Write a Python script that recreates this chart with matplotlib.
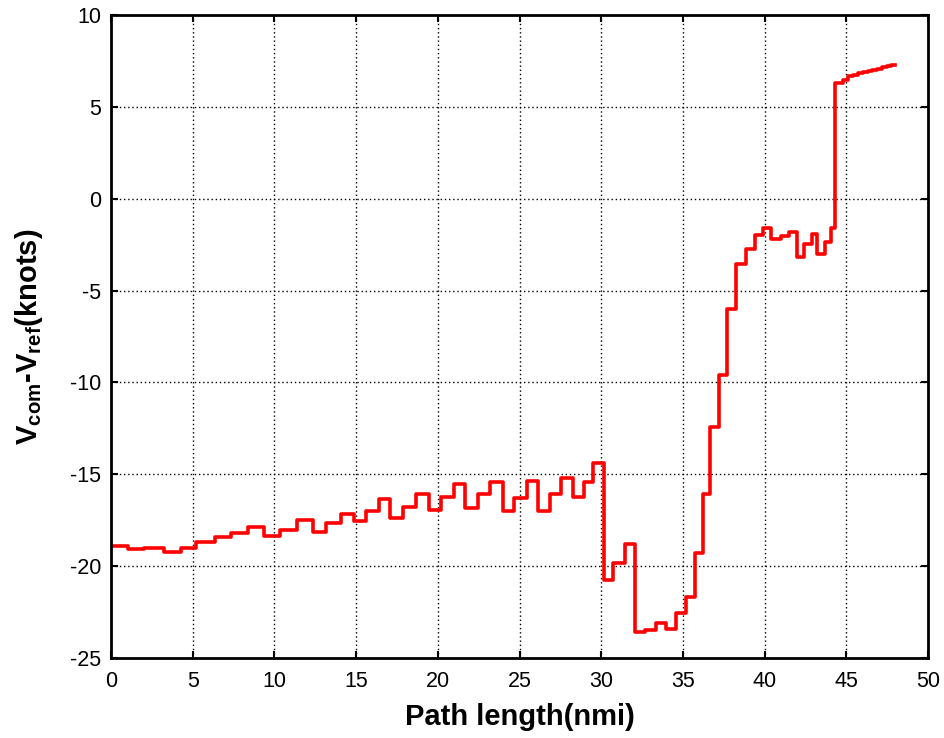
import matplotlib
matplotlib.use("Agg")
import matplotlib.pyplot as plt

plt.rcParams["font.family"] = ["Liberation Sans", "DejaVu Sans"]
plt.rcParams["mathtext.fontset"] = "custom"
plt.rcParams["mathtext.rm"] = "Liberation Sans"
plt.rcParams["mathtext.bf"] = "Liberation Sans:bold"
plt.rcParams["axes.unicode_minus"] = False

# step start positions (nmi) and speed difference (knots)
path_nmi = [0.0, 1.06, 2.03, 3.25, 4.27, 5.22, 6.34, 7.36, 8.41, 9.39,
            10.37, 11.36, 12.38, 13.16, 14.08, 14.87, 15.59, 16.40, 17.07, 17.89,
            18.67, 19.46, 20.18, 20.99, 21.66, 22.48, 23.19, 24.01, 24.66, 25.44,
            26.15, 26.87, 27.54, 28.29, 28.95, 29.52, 30.15, 30.74, 31.46, 32.07,
            32.68, 33.35, 33.97, 34.58, 35.19, 35.74, 36.21, 36.66, 37.22, 37.68,
            38.25, 38.84, 39.41, 39.88, 40.39, 41.00, 41.51, 41.96, 42.41, 42.88,
            43.19, 43.70, 44.04, 44.33, 44.82, 45.12, 45.40, 45.70, 46.00, 46.30,
            46.60, 46.90, 47.20, 47.50, 47.75, 48.00]
dv_knots = [-18.90, -19.08, -18.99, -19.23, -18.99, -18.70, -18.40, -18.21, -17.85, -18.36,
            -18.03, -17.49, -18.16, -17.67, -17.16, -17.54, -16.98, -16.36, -17.36, -16.76,
            -16.07, -16.94, -16.26, -15.54, -16.85, -16.10, -15.44, -16.98, -16.27, -15.35,
            -16.98, -16.10, -15.22, -16.22, -15.40, -14.40, -20.73, -19.81, -18.79, -23.57,
            -23.49, -23.08, -23.42, -22.57, -21.66, -19.30, -16.07, -12.45, -9.59, -6.02,
            -3.55, -2.75, -1.97, -1.61, -2.21, -2.01, -1.83, -3.15, -2.48, -1.92,
            -3.01, -2.34, -1.61, 6.28, 6.46, 6.68, 6.75, 6.83, 6.90, 6.96,
            7.02, 7.08, 7.15, 7.22, 7.28, 7.30]

fig = plt.figure(figsize=(9.45, 7.38), dpi=100)
ax = fig.add_axes([0.1175, 0.1084, 0.8645, 0.8713])
ax.step(path_nmi, dv_knots, where="post", color="red", linewidth=2.6)

ax.set_xlim(0, 50)
ax.set_ylim(-25, 10)
ax.set_xticks(range(0, 51, 5))
ax.set_yticks(range(-25, 11, 5))
ax.grid(True, color="black", linestyle=(0, (1, 2)), linewidth=1.0)
ax.tick_params(direction="in", top=True, right=True, labelsize=15.5, length=5, width=1.5)
ax.tick_params(axis="x", pad=9)
ax.tick_params(axis="y", pad=7)
for sp in ax.spines.values():
    sp.set_linewidth(2)

ax.set_xlabel("Path length(nmi)", fontsize=21, fontweight="bold", labelpad=8)
ax.set_ylabel(r"$\mathbf{V_{com}}$-$\mathbf{V_{ref}}$(knots)", fontsize=21,
              fontweight="bold", labelpad=18)

fig.savefig("out.png", dpi=100)
